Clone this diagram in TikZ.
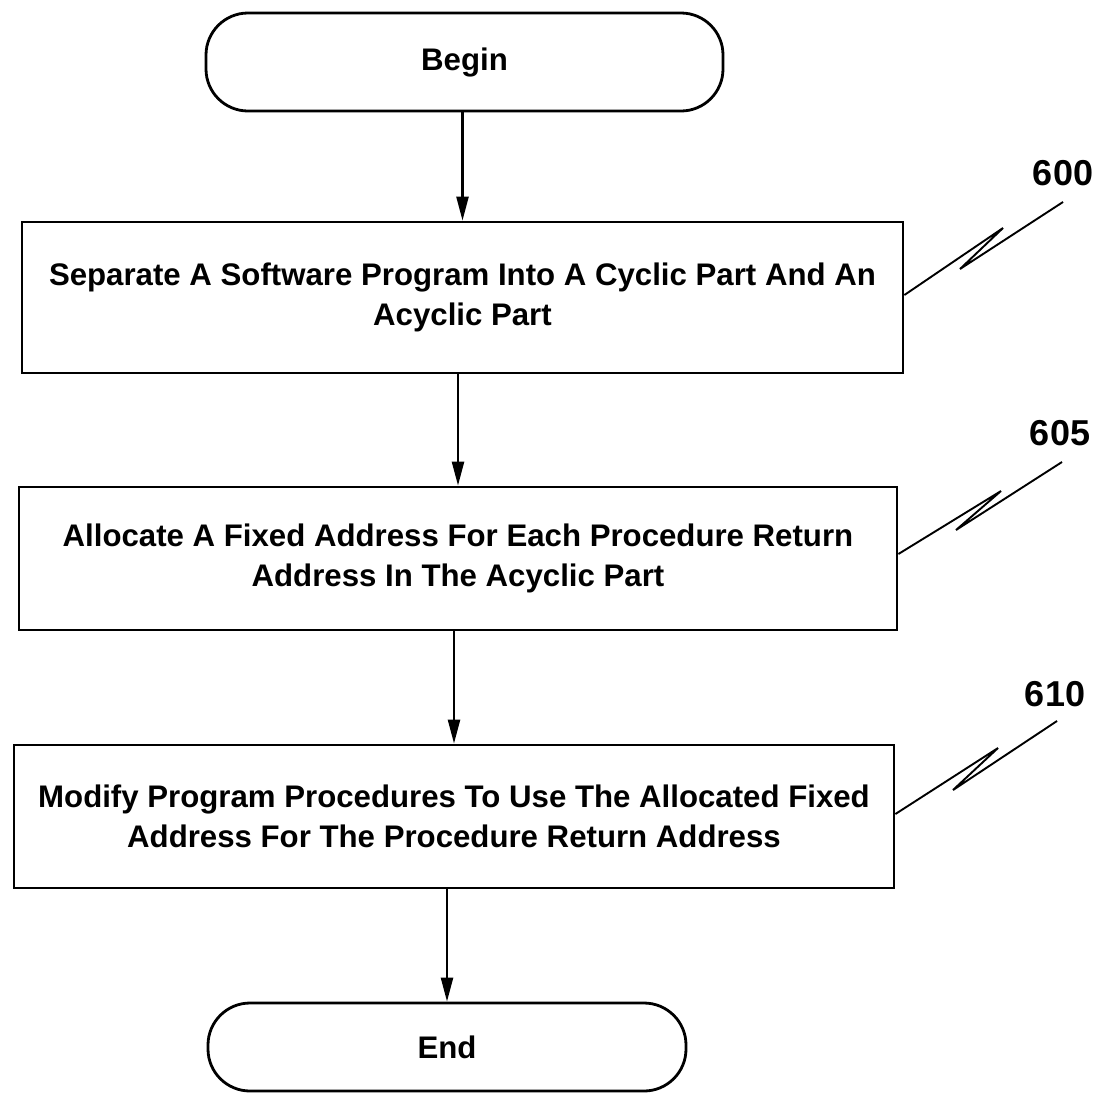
\documentclass[tikz,border=0pt]{standalone}
\usepackage{fontspec}
\setmainfont{Liberation Sans}
\usetikzlibrary{arrows.meta}
\begin{document}
\begin{tikzpicture}[x=1pt,y=-1pt,
  txt/.style={font=\fontsize{31.2}{39.5}\selectfont\bfseries},
  procbox/.style={draw=black,line width=2.8pt,align=center,inner sep=0pt,txt},
  term/.style={draw=black,line width=2.8pt,rounded corners=42pt,inner sep=0pt,txt},
  flow/.style={line width=2.4pt,-{Triangle[length=24pt,width=12pt]}},
  leader/.style={line width=1.9pt,line join=miter},
  reflabel/.style={font=\fontsize{36}{40}\selectfont\bfseries,inner sep=0pt}]
\useasboundingbox (0,0) rectangle (1099,1093);
\node[term,minimum width=517pt,minimum height=98pt] (begin) at (464.5,62) {Begin};
\node[procbox,minimum width=881pt,minimum height=151pt] (b1) at (462.5,297.5)
  {Separate A Software Program Into A Cyclic Part And An\\Acyclic Part};
\node[procbox,minimum width=878pt,minimum height=143pt] (b2) at (458,558.5)
  {Allocate A Fixed Address For Each Procedure Return\\Address In The Acyclic Part};
\node[procbox,minimum width=880pt,minimum height=143pt] (b3) at (454,816.5)
  {Modify Program Procedures To Use The Allocated Fixed\\Address For The Procedure Return Address};
\node[term,minimum width=478pt,minimum height=88pt] (end) at (447,1047) {End};
\draw[flow] (b1.north |- begin.south) -- (b1.north);
\draw[flow] (b2.north |- b1.south) -- (b2.north);
\draw[flow] (b3.north |- b2.south) -- (b3.north);
\draw[flow] (end.north |- b3.south) -- (end.north);
% reference numerals
\node[reflabel] (n600) at (1063,173) {600};
\node[reflabel] (n605) at (1060,433) {605};
\node[reflabel] (n610) at (1055,694) {610};
\coordinate (s600) at (0,295);
\coordinate (a600) at (1003,228);
\coordinate (c600) at (960,269);
\coordinate (e600) at (1063,202);
\coordinate (s605) at (0,554);
\coordinate (a605) at (1001,491);
\coordinate (c605) at (956,530);
\coordinate (e605) at (1062,462);
\coordinate (s610) at (0,814);
\coordinate (a610) at (998,748);
\coordinate (c610) at (953,790);
\coordinate (e610) at (1057,721);
\draw[leader] (b1.east |- s600) -- (a600) -- (c600) -- (e600);
\draw[leader] (b2.east |- s605) -- (a605) -- (c605) -- (e605);
\draw[leader] (b3.east |- s610) -- (a610) -- (c610) -- (e610);
\end{tikzpicture}
\end{document}
